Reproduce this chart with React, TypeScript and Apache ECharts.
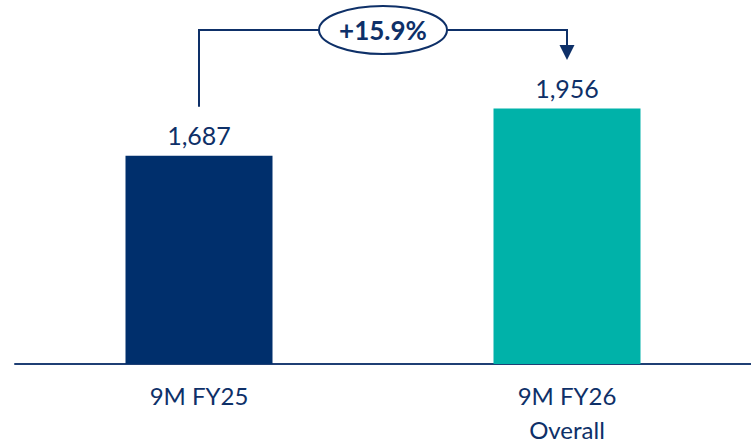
import React, { useEffect, useRef } from "react";
import * as echarts from "echarts";

const categories = ["9M FY25", "9M FY26\nOverall"];
const values = [1687, 1956];
const barColors = ["#002F6C", "#00B2A9"];
const valueLabels = ["1,687", "1,956"];
const growthLabel = "+15.9%";

const NAVY = "#0E3068";
const FONT = "Lato, 'Open Sans', sans-serif";

export default function App() {
  const ref = useRef<HTMLDivElement>(null);
  useEffect(() => {
    if (!ref.current) return;
    const chart = echarts.init(ref.current, null, { renderer: "svg" });
    chart.setOption({
      animation: false,
      grid: { left: 15, right: 0, top: 13, bottom: 79 },
      xAxis: {
        type: "category",
        data: categories,
        axisLine: { show: true, lineStyle: { color: "#1F3F74", width: 2 } },
        axisTick: { show: false },
        axisLabel: {
          color: NAVY,
          fontFamily: FONT,
          fontSize: 24,
          lineHeight: 34,
          margin: 14,
        },
      },
      yAxis: {
        type: "value",
        min: 500,
        max: 2500,
        show: false,
        splitLine: { show: false },
      },
      series: [
        {
          type: "bar",
          barWidth: 147,
          data: values.map((v, i) => ({
            value: v,
            itemStyle: { color: barColors[i] },
            label: {
              show: true,
              position: "top",
              distance: 8,
              formatter: valueLabels[i],
              color: NAVY,
              fontFamily: FONT,
              fontSize: 25,
            },
          })),
        },
      ],
    });

    const p0 = chart.convertToPixel({ xAxisIndex: 0, yAxisIndex: 0 }, [0, values[0]]) as number[];
    const p1 = chart.convertToPixel({ xAxisIndex: 0, yAxisIndex: 0 }, [1, values[1]]) as number[];
    const x0 = p0[0];
    const x1 = p1[0];
    const yTop = 30;
    const cx = 383;
    chart.setOption({
      graphic: [
        {
          type: "polyline",
          shape: { points: [[x0, p0[1] - 49], [x0, yTop], [x1, yTop], [x1, 47]] },
          style: { stroke: NAVY, lineWidth: 2, fill: "none" },
          z: 10,
        },
        {
          type: "polygon",
          shape: { points: [[x1 - 7.5, 45], [x1 + 7.5, 45], [x1, 60]] },
          style: { fill: NAVY },
          z: 10,
        },
        {
          type: "ellipse",
          shape: { cx, cy: yTop, rx: 64, ry: 24 },
          style: { fill: "#ffffff", stroke: NAVY, lineWidth: 2 },
          z: 11,
        },
        {
          type: "text",
          x: cx,
          y: yTop,
          style: {
            text: growthLabel,
            fill: NAVY,
            font: `bold 26px ${FONT}`,
            align: "center",
            verticalAlign: "middle",
          },
          z: 12,
        },
      ],
    });
    return () => chart.dispose();
  }, []);
  return (
    <div
      ref={ref}
      style={{ position: "fixed", left: 0, top: 0, width: 751, height: 446, background: "#fff" }}
    />
  );
}
